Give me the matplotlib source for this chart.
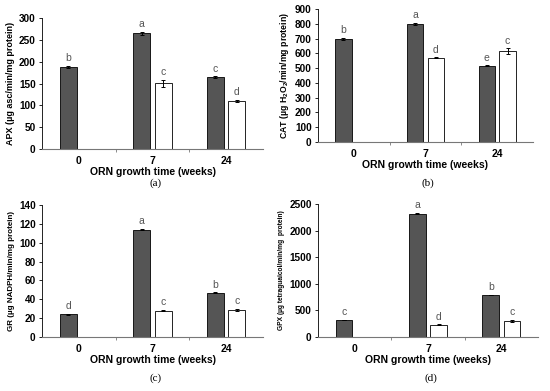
import numpy as np
import matplotlib
matplotlib.use("Agg")
import matplotlib.pyplot as plt

plt.rcParams['font.family'] = ['Liberation Sans', 'DejaVu Sans']

weeks = ["0", "7", "24"]

# dark bars (all three groups), white bars (only weeks 7 and 24)
apx_dark = [188, 265, 165]
apx_dark_err = [2, 4, 1.5]
apx_dark_let = ["b", "a", "c"]
apx_white = [np.nan, 151, 110]
apx_white_err = [0, 8, 3]
apx_white_let = ["", "c", "d"]

cat_dark = [695, 800, 515]
cat_dark_err = [8, 7, 4]
cat_dark_let = ["b", "a", "e"]
cat_white = [np.nan, 570, 615]
cat_white_err = [0, 4, 20]
cat_white_let = ["", "d", "c"]

gr_dark = [24, 114, 47]
gr_dark_err = [0.4, 0.6, 0.5]
gr_dark_let = ["d", "a", "b"]
gr_white = [np.nan, 28, 29]
gr_white_err = [0, 0.8, 1.0]
gr_white_let = ["", "c", "c"]

gpx_dark = [320, 2320, 790]
gpx_dark_err = [8, 8, 8]
gpx_dark_let = ["c", "a", "b"]
gpx_white = [np.nan, 230, 300]
gpx_white_err = [0, 10, 25]
gpx_white_let = ["", "d", "c"]

DARK = "#555555"
W = 0.23
OFF = 0.145


def px_axes(fig, l, r, t, b):
    fw, fh = 550, 391
    return fig.add_axes([l / fw, (fh - b) / fh, (r - l) / fw, (b - t) / fh])


def panel(ax, dark, dark_err, dark_let, white, white_err, white_let,
          ymax, ystep, ylabel, ylabel_size, caption, cap_y, fig):
    x = np.arange(len(weeks))
    ek = dict(ecolor="black", elinewidth=0.7, capsize=1.5, capthick=0.7)
    ax.bar(x - OFF, dark, W, yerr=dark_err, color=DARK, edgecolor="black",
           linewidth=0.6, error_kw=ek, zorder=2)
    wv = np.array(white, dtype=float)
    ax.bar(x + OFF, np.nan_to_num(wv), W,
           yerr=white_err, color="white",
           edgecolor=["none" if np.isnan(v) else "black" for v in wv],
           linewidth=0.6, error_kw=ek, zorder=2)
    pad = ymax * 0.02
    for i in range(len(weeks)):
        ax.text(x[i] - OFF, dark[i] + dark_err[i] + pad, dark_let[i],
                ha="center", va="bottom", fontsize=7.5, color="#555555")
        if not np.isnan(wv[i]):
            ax.text(x[i] + OFF, wv[i] + white_err[i] + pad, white_let[i],
                    ha="center", va="bottom", fontsize=7.5, color="#555555")
    ax.set_xlim(-0.5, 2.5)
    ax.set_ylim(0, ymax)
    ax.set_yticks(np.arange(0, ymax + 1, ystep))
    ax.set_xticks(x)
    ax.set_xticklabels(weeks, fontsize=7.5, fontweight="bold")
    ax.set_xticks([0.5, 1.5], minor=True)
    ax.tick_params(axis="x", which="major", length=0, pad=5)
    ax.tick_params(axis="x", which="minor", length=2.5, width=0.6,
                   direction="out", color="#777777")
    ax.tick_params(axis="y", length=2.5, width=0.6, direction="out",
                   labelsize=7.2, pad=2)
    for lab in ax.get_yticklabels():
        lab.set_fontweight("bold")
    for s in ["top", "right"]:
        ax.spines[s].set_visible(False)
    ax.spines["left"].set_linewidth(0.6)
    ax.spines["bottom"].set_linewidth(0.8)
    ax.spines["bottom"].set_color("#777777")
    ax.set_xlabel("ORN growth time (weeks)", fontsize=7.5, fontweight="bold",
                  labelpad=0.5)
    ax.set_ylabel(ylabel, fontsize=ylabel_size, fontweight="bold", labelpad=3)
    pos = ax.get_position()
    fig.text(pos.x0 + pos.width / 2 + 0.005, cap_y, caption, ha="center",
             va="center", fontsize=8, family="Liberation Serif")


fig = plt.figure(figsize=(5.5, 3.91), dpi=100)

ax_a = px_axes(fig, 42, 263, 18, 149)
panel(ax_a, apx_dark, apx_dark_err, apx_dark_let, apx_white, apx_white_err,
      apx_white_let, 300, 50, "APX (µg asc/min/mg protein)", 6.5, "(a)",
      1 - 183 / 391, fig)

ax_b = px_axes(fig, 318, 533, 9, 142)
panel(ax_b, cat_dark, cat_dark_err, cat_dark_let, cat_white, cat_white_err,
      cat_white_let, 900, 100,
      "CAT (µg H$_\\mathregular{2}$O$_\\mathregular{2}$/min/mg protein)", 6.3,
      "(b)", 1 - 183 / 391, fig)

ax_c = px_axes(fig, 42, 263, 205, 337)
panel(ax_c, gr_dark, gr_dark_err, gr_dark_let, gr_white, gr_white_err,
      gr_white_let, 140, 20, "GR (µg NADPH/min/mg protein)", 5.8, "(c)",
      1 - 378 / 391, fig)

ax_d = px_axes(fig, 318, 538, 204, 337)
panel(ax_d, gpx_dark, gpx_dark_err, gpx_dark_let, gpx_white, gpx_white_err,
      gpx_white_let, 2500, 500, "GPX (µg tetraguaicol/min/mg  protein)", 4.8,
      "(d)", 1 - 378 / 391, fig)

fig.savefig("out.png", dpi=100)
